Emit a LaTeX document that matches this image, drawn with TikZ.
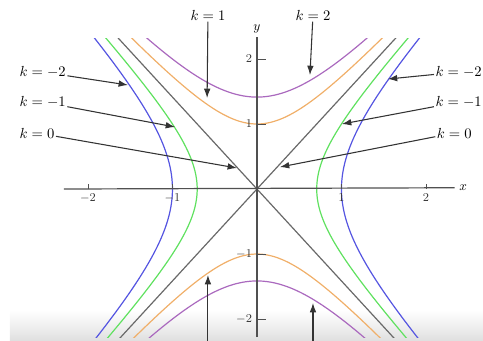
\documentclass[tikz,border=0pt]{standalone}
\usetikzlibrary{arrows.meta}

\definecolor{lvlblue}{RGB}{85,85,225}
\definecolor{lvlgreen}{RGB}{95,225,95}
\definecolor{lvlgray}{RGB}{105,105,105}
\definecolor{lvlorange}{RGB}{240,175,105}
\definecolor{lvlpurple}{RGB}{170,105,190}
\definecolor{axisgray}{RGB}{80,80,80}

\tikzset{
  levelcurve/.style={line width=0.9pt},
  axisline/.style={line width=0.9pt, draw=axisgray},
  klabel/.style={font=\fontsize{11}{13}\selectfont, inner sep=1pt},
  ticklabel/.style={font=\small, text=black!80, inner sep=1pt},
  pointer/.style={line width=0.8pt, draw=black!80, -{Latex[length=7pt,width=5pt]}},
}

\begin{document}
\begin{tikzpicture}[x=63.375pt, y=48.75pt]
\useasboundingbox (-3.041,-2.338) rectangle (2.675,2.908);
\clip (-3.041,-2.338) rectangle (2.675,2.908);

% overlay strip at the bottom
\shade[top color=white, bottom color=black!14] (-2.923,-1.86) rectangle (2.7,-2.4);

% level curves
\begin{scope}
\clip (-3,-2.28) rectangle (2.7,2.31);
\foreach \k/\col in {1/lvlorange, 2/lvlpurple} {
  \draw[levelcurve, draw=\col] plot[domain=-1.8:1.8, samples=80, smooth] (\x, {sqrt(\k+2*\x*\x)});
  \draw[levelcurve, draw=\col] plot[domain=-1.8:1.8, samples=80, smooth] (\x, {-sqrt(\k+2*\x*\x)});
}
\foreach \k/\col in {-1/lvlgreen, -2/lvlblue} {
  \draw[levelcurve, draw=\col] plot[domain=-2.4:2.4, samples=80, smooth] ({sqrt((\x*\x-(\k))/2)}, \x);
  \draw[levelcurve, draw=\col] plot[domain=-2.4:2.4, samples=80, smooth] ({-sqrt((\x*\x-(\k))/2)}, \x);
}
\draw[levelcurve, draw=lvlgray] (-1.7,-2.404) -- (1.7,2.404);
\draw[levelcurve, draw=lvlgray] (-1.7,2.404) -- (1.7,-2.404);
\end{scope}

% axes
\node (xlab) at (2.44,0.02) {$x$};
\node (ylab) at (0,2.47) {$y$};
\draw[axisline] (-2.284,0) -- (xlab);
\draw[axisline] (0,-2.277) -- (ylab);
\foreach \t in {-2,-1,1,2} {
  \draw[axisline, line width=0.6pt] (\t,0) -- (\t,0.08);
  \node[ticklabel, anchor=north] (xtick\t) at (\t,-0.05) {$\t$};
  \draw[axisline, line width=0.6pt] (0,\t) -- (0.11,\t);
  \node[ticklabel, anchor=east] (ytick\t) at (-0.04,\t) {$\t$};
}

% labels on top
\node[klabel] (kone) at (-0.58,2.677) {$k = 1$};
\node[klabel] (ktwo) at (0.663,2.677) {$k = 2$};
\coordinate (kone tip) at (-0.59,1.40);
\coordinate (ktwo tip) at (0.627,1.754);
\draw[pointer] (kone) -- (kone tip);
\draw[pointer] (ktwo) -- (ktwo tip);

% labels on the left
\node[klabel, anchor=west] (kmtwoL) at (-2.828,1.80) {$k = -2$};
\node[klabel, anchor=west] (kmoneL) at (-2.828,1.338) {$k = -1$};
\node[klabel, anchor=west] (kzeroL) at (-2.828,0.862) {$k = 0$};
\coordinate (kmtwoL tip) at (-1.527,1.60);
\coordinate (kmoneL tip) at (-0.970,0.954);
\coordinate (kzeroL tip) at (-0.237,0.323);
\draw[pointer] (kmtwoL) -- (kmtwoL tip);
\draw[pointer] (kmoneL) -- (kmoneL tip);
\draw[pointer] (kzeroL) -- (kzeroL tip);

% labels on the right
\node[klabel, anchor=west] (kmtwoR) at (2.095,1.80) {$k = -2$};
\node[klabel, anchor=west] (kmoneR) at (2.095,1.338) {$k = -1$};
\node[klabel, anchor=west] (kzeroR) at (2.11,0.862) {$k = 0$};
\coordinate (kmtwoR tip) at (1.550,1.692);
\coordinate (kmoneR tip) at (1.006,1.0);
\coordinate (kzeroR tip) at (0.272,0.338);
\draw[pointer] (kmtwoR) -- (kmtwoR tip);
\draw[pointer] (kmoneR) -- (kmoneR tip);
\draw[pointer] (kzeroR) -- (kzeroR tip);

% arrows from below
\coordinate (kbotL) at (-0.58,-2.5);
\coordinate (kbotR) at (0.663,-2.5);
\coordinate (kbotL tip) at (-0.58,-1.323);
\coordinate (kbotR tip) at (0.663,-1.754);
\draw[pointer] (kbotL) -- (kbotL tip);
\draw[pointer] (kbotR) -- (kbotR tip);
\end{tikzpicture}
\end{document}
